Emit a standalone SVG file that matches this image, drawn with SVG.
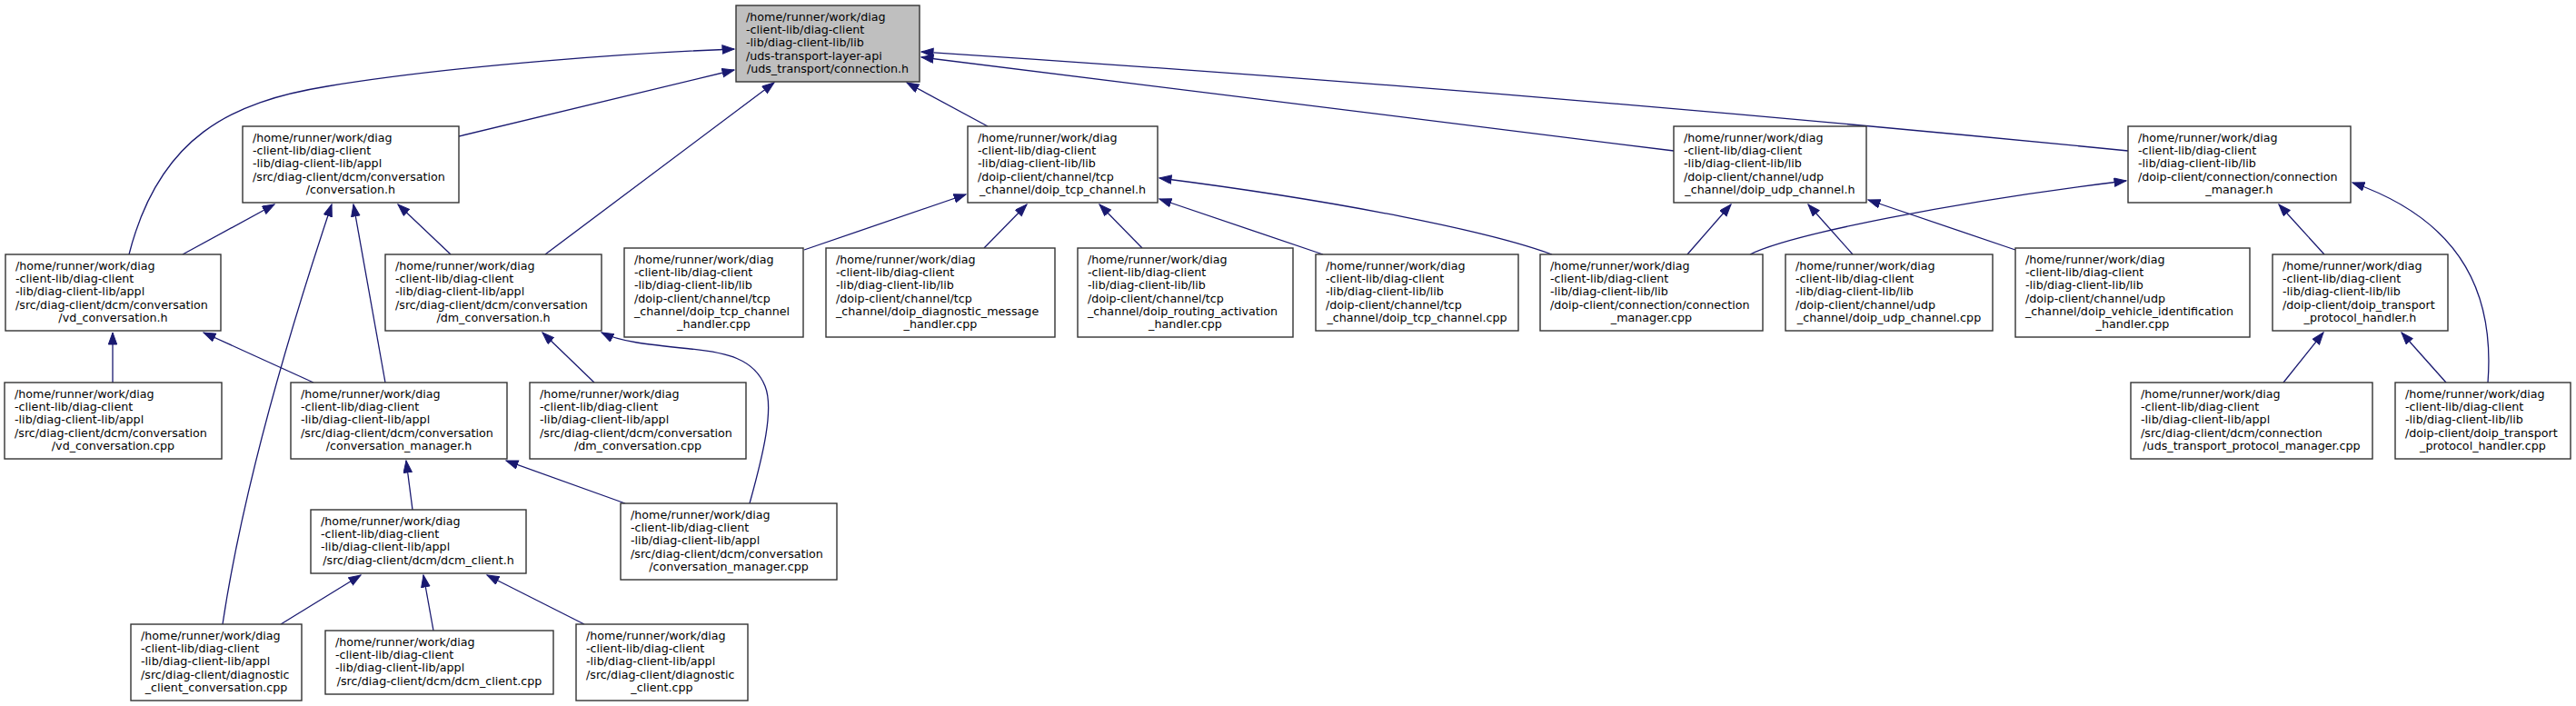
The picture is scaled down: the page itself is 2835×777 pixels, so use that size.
<svg xmlns="http://www.w3.org/2000/svg" width="2835" height="777" viewBox="0 0 2835 777">
<style>
.n rect{fill:#ffffff;stroke:#333333;stroke-width:1.4}
#n0 rect{fill:#bfbfbf}
.n text{font-family:"DejaVu Sans","Liberation Sans",sans-serif;font-size:12.7px;fill:#000000}
.n text.c{text-anchor:middle}
.e path{fill:none;stroke:#191970;stroke-width:1.3;marker-end:url(#ah)}
</style>
<defs>
<marker id="ah" markerUnits="userSpaceOnUse" markerWidth="16" markerHeight="12" refX="13.5" refY="5" orient="auto">
<path d="M0.5,0.3 L13.5,5 L0.5,9.7 Z" fill="#191970" stroke="#191970" stroke-width="1"/>
</marker>
</defs>
<rect x="0" y="0" width="2835" height="777" fill="#ffffff"/>
<g id="connectors" class="e">
<path d="M142,280 C175,150 255,112 360,95 C500,72 700,58 808,54"/>
<path d="M505,150 L808,77"/>
<path d="M600,280 L852,91"/>
<path d="M1087,139 L998,91"/>
<path d="M1842,166 L1014,63"/>
<path d="M2342,166 Q1677,100 1014,57"/>
<path d="M201,280 L302,225"/>
<path d="M496,280 L438,225"/>
<path d="M245,687 C270,520 330,330 365,225"/>
<path d="M424,421 L389,225"/>
<path d="M124,421 L124,366"/>
<path d="M345,421 L224,366"/>
<path d="M654,421 L597,366"/>
<path d="M825,554 C840,500 852,450 842,425 C830,395 800,388 760,384 C712,379 682,376 662,366"/>
<path d="M454,561 L447,507"/>
<path d="M688,554 L557,507"/>
<path d="M309,687 L397,633"/>
<path d="M477,694 L466,633"/>
<path d="M643,687 L536,633"/>
<path d="M885,275 L1063,214"/>
<path d="M1083,273 L1130,225"/>
<path d="M1257,273 L1210,225"/>
<path d="M1456,280 L1276,219"/>
<path d="M1708,280 C1640,255 1480,222 1276,196"/>
<path d="M1857,280 L1905,225"/>
<path d="M2039,280 L1990,225"/>
<path d="M2218,275 L2056,220"/>
<path d="M1926,280 C1970,258 2150,222 2340,199"/>
<path d="M2558,280 L2508,225"/>
<path d="M2738,421 C2745,330 2715,245 2589,201"/>
<path d="M2513,421 L2557,366"/>
<path d="M2692,421 L2643,366"/>
</g>
<g id="n0" class="n"><rect x="810" y="6" width="202" height="84"/>
<text x="821" y="23">/home/runner/work/diag</text><text x="821" y="37.2">-client-lib/diag-client</text><text x="821" y="51.4">-lib/diag-client-lib/lib</text><text x="821" y="65.6">/uds-transport-layer-api</text><text class="c" x="911" y="79.8">/uds_transport/connection.h</text></g>
<g id="n_conv_h" class="n"><rect x="267" y="139" width="238" height="84"/>
<text x="278" y="156">/home/runner/work/diag</text><text x="278" y="170.2">-client-lib/diag-client</text><text x="278" y="184.4">-lib/diag-client-lib/appl</text><text x="278" y="198.6">/src/diag-client/dcm/conversation</text><text class="c" x="386" y="212.8">/conversation.h</text></g>
<g id="n_vd_h" class="n"><rect x="6" y="280" width="237" height="84"/>
<text x="17" y="297">/home/runner/work/diag</text><text x="17" y="311.2">-client-lib/diag-client</text><text x="17" y="325.4">-lib/diag-client-lib/appl</text><text x="17" y="339.6">/src/diag-client/dcm/conversation</text><text class="c" x="124.5" y="353.8">/vd_conversation.h</text></g>
<g id="n_dm_h" class="n"><rect x="424" y="280" width="238" height="84"/>
<text x="435" y="297">/home/runner/work/diag</text><text x="435" y="311.2">-client-lib/diag-client</text><text x="435" y="325.4">-lib/diag-client-lib/appl</text><text x="435" y="339.6">/src/diag-client/dcm/conversation</text><text class="c" x="543" y="353.8">/dm_conversation.h</text></g>
<g id="n_tcp_h" class="n"><rect x="1065" y="139" width="209" height="84"/>
<text x="1076" y="156">/home/runner/work/diag</text><text x="1076" y="170.2">-client-lib/diag-client</text><text x="1076" y="184.4">-lib/diag-client-lib/lib</text><text x="1076" y="198.6">/doip-client/channel/tcp</text><text class="c" x="1169.5" y="212.8">_channel/doip_tcp_channel.h</text></g>
<g id="n_udp_h" class="n"><rect x="1842" y="139" width="212" height="84"/>
<text x="1853" y="156">/home/runner/work/diag</text><text x="1853" y="170.2">-client-lib/diag-client</text><text x="1853" y="184.4">-lib/diag-client-lib/lib</text><text x="1853" y="198.6">/doip-client/channel/udp</text><text class="c" x="1948" y="212.8">_channel/doip_udp_channel.h</text></g>
<g id="n_cm_h" class="n"><rect x="2342" y="139" width="245" height="84"/>
<text x="2353" y="156">/home/runner/work/diag</text><text x="2353" y="170.2">-client-lib/diag-client</text><text x="2353" y="184.4">-lib/diag-client-lib/lib</text><text x="2353" y="198.6">/doip-client/connection/connection</text><text class="c" x="2464.5" y="212.8">_manager.h</text></g>
<g id="n_tcp_handler_cpp" class="n"><rect x="687" y="273" width="197" height="98"/>
<text x="698" y="290">/home/runner/work/diag</text><text x="698" y="304.2">-client-lib/diag-client</text><text x="698" y="318.4">-lib/diag-client-lib/lib</text><text x="698" y="332.6">/doip-client/channel/tcp</text><text x="698" y="346.8">_channel/doip_tcp_channel</text><text class="c" x="785.5" y="361">_handler.cpp</text></g>
<g id="n_diag_msg_cpp" class="n"><rect x="909" y="273" width="252" height="98"/>
<text x="920" y="290">/home/runner/work/diag</text><text x="920" y="304.2">-client-lib/diag-client</text><text x="920" y="318.4">-lib/diag-client-lib/lib</text><text x="920" y="332.6">/doip-client/channel/tcp</text><text x="920" y="346.8">_channel/doip_diagnostic_message</text><text class="c" x="1035" y="361">_handler.cpp</text></g>
<g id="n_routing_cpp" class="n"><rect x="1186" y="273" width="237" height="98"/>
<text x="1197" y="290">/home/runner/work/diag</text><text x="1197" y="304.2">-client-lib/diag-client</text><text x="1197" y="318.4">-lib/diag-client-lib/lib</text><text x="1197" y="332.6">/doip-client/channel/tcp</text><text x="1197" y="346.8">_channel/doip_routing_activation</text><text class="c" x="1304.5" y="361">_handler.cpp</text></g>
<g id="n_tcp_cpp" class="n"><rect x="1448" y="280" width="223" height="84"/>
<text x="1459" y="297">/home/runner/work/diag</text><text x="1459" y="311.2">-client-lib/diag-client</text><text x="1459" y="325.4">-lib/diag-client-lib/lib</text><text x="1459" y="339.6">/doip-client/channel/tcp</text><text class="c" x="1559.5" y="353.8">_channel/doip_tcp_channel.cpp</text></g>
<g id="n_cm_cpp" class="n"><rect x="1695" y="280" width="245" height="84"/>
<text x="1706" y="297">/home/runner/work/diag</text><text x="1706" y="311.2">-client-lib/diag-client</text><text x="1706" y="325.4">-lib/diag-client-lib/lib</text><text x="1706" y="339.6">/doip-client/connection/connection</text><text class="c" x="1817.5" y="353.8">_manager.cpp</text></g>
<g id="n_udp_cpp" class="n"><rect x="1965" y="280" width="228" height="84"/>
<text x="1976" y="297">/home/runner/work/diag</text><text x="1976" y="311.2">-client-lib/diag-client</text><text x="1976" y="325.4">-lib/diag-client-lib/lib</text><text x="1976" y="339.6">/doip-client/channel/udp</text><text class="c" x="2079" y="353.8">_channel/doip_udp_channel.cpp</text></g>
<g id="n_vehicle_cpp" class="n"><rect x="2218" y="273" width="258" height="98"/>
<text x="2229" y="290">/home/runner/work/diag</text><text x="2229" y="304.2">-client-lib/diag-client</text><text x="2229" y="318.4">-lib/diag-client-lib/lib</text><text x="2229" y="332.6">/doip-client/channel/udp</text><text x="2229" y="346.8">_channel/doip_vehicle_identification</text><text class="c" x="2347" y="361">_handler.cpp</text></g>
<g id="n_tph_h" class="n"><rect x="2501" y="280" width="193" height="84"/>
<text x="2512" y="297">/home/runner/work/diag</text><text x="2512" y="311.2">-client-lib/diag-client</text><text x="2512" y="325.4">-lib/diag-client-lib/lib</text><text x="2512" y="339.6">/doip-client/doip_transport</text><text class="c" x="2597.5" y="353.8">_protocol_handler.h</text></g>
<g id="n_vd_cpp" class="n"><rect x="5" y="421" width="239" height="84"/>
<text x="16" y="438">/home/runner/work/diag</text><text x="16" y="452.2">-client-lib/diag-client</text><text x="16" y="466.4">-lib/diag-client-lib/appl</text><text x="16" y="480.6">/src/diag-client/dcm/conversation</text><text class="c" x="124.5" y="494.8">/vd_conversation.cpp</text></g>
<g id="n_cmgr_h" class="n"><rect x="320" y="421" width="238" height="84"/>
<text x="331" y="438">/home/runner/work/diag</text><text x="331" y="452.2">-client-lib/diag-client</text><text x="331" y="466.4">-lib/diag-client-lib/appl</text><text x="331" y="480.6">/src/diag-client/dcm/conversation</text><text class="c" x="439" y="494.8">/conversation_manager.h</text></g>
<g id="n_dm_cpp" class="n"><rect x="583" y="421" width="238" height="84"/>
<text x="594" y="438">/home/runner/work/diag</text><text x="594" y="452.2">-client-lib/diag-client</text><text x="594" y="466.4">-lib/diag-client-lib/appl</text><text x="594" y="480.6">/src/diag-client/dcm/conversation</text><text class="c" x="702" y="494.8">/dm_conversation.cpp</text></g>
<g id="n_cmgr_cpp" class="n"><rect x="683" y="554" width="238" height="84"/>
<text x="694" y="571">/home/runner/work/diag</text><text x="694" y="585.2">-client-lib/diag-client</text><text x="694" y="599.4">-lib/diag-client-lib/appl</text><text x="694" y="613.6">/src/diag-client/dcm/conversation</text><text class="c" x="802" y="627.8">/conversation_manager.cpp</text></g>
<g id="n_dcm_h" class="n"><rect x="342" y="561" width="237" height="70"/>
<text x="353" y="578">/home/runner/work/diag</text><text x="353" y="592.2">-client-lib/diag-client</text><text x="353" y="606.4">-lib/diag-client-lib/appl</text><text class="c" x="460.5" y="620.6">/src/diag-client/dcm/dcm_client.h</text></g>
<g id="n_dcc_cpp" class="n"><rect x="144" y="687" width="188" height="84"/>
<text x="155" y="704">/home/runner/work/diag</text><text x="155" y="718.2">-client-lib/diag-client</text><text x="155" y="732.4">-lib/diag-client-lib/appl</text><text x="155" y="746.6">/src/diag-client/diagnostic</text><text class="c" x="238" y="760.8">_client_conversation.cpp</text></g>
<g id="n_dcm_cpp" class="n"><rect x="358" y="694" width="251" height="70"/>
<text x="369" y="711">/home/runner/work/diag</text><text x="369" y="725.2">-client-lib/diag-client</text><text x="369" y="739.4">-lib/diag-client-lib/appl</text><text class="c" x="483.5" y="753.6">/src/diag-client/dcm/dcm_client.cpp</text></g>
<g id="n_dc_cpp" class="n"><rect x="634" y="687" width="189" height="84"/>
<text x="645" y="704">/home/runner/work/diag</text><text x="645" y="718.2">-client-lib/diag-client</text><text x="645" y="732.4">-lib/diag-client-lib/appl</text><text x="645" y="746.6">/src/diag-client/diagnostic</text><text class="c" x="728.5" y="760.8">_client.cpp</text></g>
<g id="n_utpm_cpp" class="n"><rect x="2345" y="421" width="266" height="84"/>
<text x="2356" y="438">/home/runner/work/diag</text><text x="2356" y="452.2">-client-lib/diag-client</text><text x="2356" y="466.4">-lib/diag-client-lib/appl</text><text x="2356" y="480.6">/src/diag-client/dcm/connection</text><text class="c" x="2478" y="494.8">/uds_transport_protocol_manager.cpp</text></g>
<g id="n_tph_cpp" class="n"><rect x="2636" y="421" width="193" height="84"/>
<text x="2647" y="438">/home/runner/work/diag</text><text x="2647" y="452.2">-client-lib/diag-client</text><text x="2647" y="466.4">-lib/diag-client-lib/lib</text><text x="2647" y="480.6">/doip-client/doip_transport</text><text class="c" x="2732.5" y="494.8">_protocol_handler.cpp</text></g>
</svg>
